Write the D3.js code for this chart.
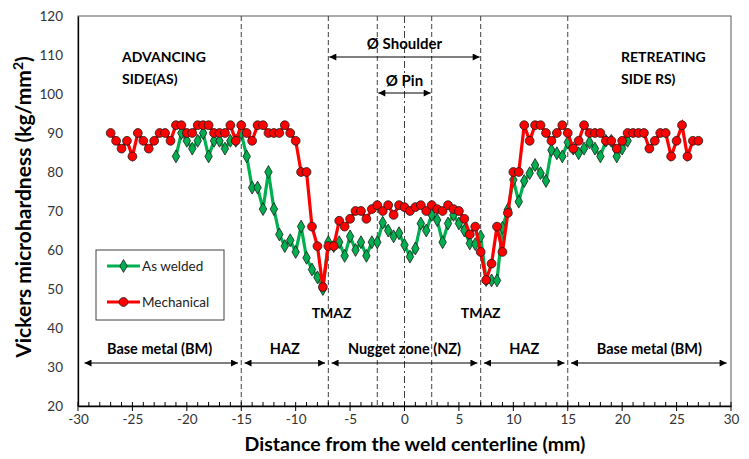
<!DOCTYPE html>
<html>
<head>
<meta charset="utf-8">
<script src="https://cdn.jsdelivr.net/npm/d3@7"></script>
<style>
  body { margin: 0; background: #fff; }
  svg text { font-family: Lato, "Open Sans", sans-serif; }
</style>
</head>
<body>
<div id="chart"></div>
<script>
// measurement positions (mm) and hardness readings
const mechX = [-27,-26.5,-26,-25.5,-25,-24.5,-24,-23.5,-23,-22.5,
  -22,-21.5,-21,-20.5,-20,-19.5,-19,-18.5,-18,-17.5,
  -17,-16.5,-16,-15.5,-15,-14.5,-14,-13.5,-13,-12.5,
  -12,-11.5,-11,-10.5,-10,-9.5,-9,-8.5,-8,-7.5,
  -7,-6.5,-6,-5.5,-5,-4.5,-4,-3.5,-3,-2.5,
  -2,-1.5,-1,-0.5,0,0.5,1,1.5,2,2.5,
  3,3.5,4,4.5,5,5.5,6,6.5,7,7.5,
  8,8.5,9,9.5,10,10.5,11,11.5,12,12.5,
  13,13.5,14,14.5,15,15.5,16,16.5,17,17.5,
  18,18.5,19,19.5,20,20.5,21,21.5,22,22.5,
  23,23.5,24,24.5,25,25.5,26,26.5,27]
const mechY = [90,88,86,88,84,90,88,86,88,90,
  90,88,92,92,90,90,92,92,92,90,
  90,90,92,88,92,90,88,92,92,90,
  90,90,92,90,88,80,80,66,61,50.5,
  61,61,67.5,66,68,70,70,68,70.5,71.5,
  70,71.5,69,71.5,71,70,71,71.5,70,71.5,
  70.5,70,71.5,70.5,70,68,64,66,59.5,52.3,
  56.5,66,59.5,69.5,80,80,92,88,92,92,
  90,88,90,92,90,86,88,92,90,90,
  90,88,88,86,88,90,90,90,90,86,
  88,90,90,84,88,92,84,88,88]

const weldX = [-21,-20.5,-20,-19.5,-19,-18.5,-18,-17.5,-17,-16.5,
  -16,-15.5,-15,-14.5,-14,-13.5,-13,-12.5,-12,-11.5,
  -11,-10.5,-10,-9.5,-9,-8.5,-8,-7.5,-7,-6.5,
  -6,-5.5,-5,-4.5,-4,-3.5,-3,-2.5,-2,-1.5,
  -1,-0.5,0,0.5,1,1.5,2,2.5,3,3.5,
  4,4.5,5,5.5,6,6.5,7,7.5,8,8.5,
  9,9.5,10,10.5,11,11.5,12,12.5,13,13.5,
  14,14.5,15,15.5,16,16.5,17,17.5,18,18.5,
  19,19.5,20,20.5]
const weldY = [84,90,88,86,88,90,84,88,88,86,
  88,88,90,84,76,76,70.5,80,70.5,64,
  61,62.5,59.5,66,58,55,53,50,62,61,
  62,58.5,63.5,60,62,58.5,62,62,67,65,
  63.5,64.3,61.3,58.3,60.4,66.8,65,69,67.7,62,
  66.8,69,66.8,65,61.7,61.5,63.5,52.3,52.2,52.2,
  65.7,70.4,78,72.4,77.7,79.7,81.8,79.7,77.7,85.6,
  84.8,84,87.6,86,84.8,86,87.6,86,84,88,
  88,84,86,88]

const seriesNames = ["As welded", "Mechanical"]
const xTicks = [-30,-25,-20,-15,-10,-5,0,5,10,15,20,25,30]
const yTicks = [20,30,40,50,60,70,80,90,100,110,120]
const zoneBounds = [-15, -7, -2.5, 0, 2.5, 7, 15]
const zones = [
  {from: -30, to: -15, label: "Base metal (BM)"},
  {from: -15, to: -7, label: "HAZ"},
  {from: -7, to: 7, label: "Nugget zone (NZ)"},
  {from: 7, to: 15, label: "HAZ"},
  {from: 15, to: 30, label: "Base metal (BM)"}
]

const W = 749, H = 459
const margin = {top: 16, right: 18, bottom: 53, left: 78}
const width = W - margin.left - margin.right
const height = H - margin.top - margin.bottom

const x = d3.scaleLinear().domain([-30, 30]).range([0, width])
const y = d3.scaleLinear().domain([20, 120]).range([height, 0])

const svg = d3.select("#chart").append("svg")
    .attr("width", W).attr("height", H)

svg.append("defs").append("marker")
    .attr("id", "ah")
    .attr("viewBox", "0 0 10 10")
    .attr("refX", 10).attr("refY", 5)
    .attr("markerWidth", 9).attr("markerHeight", 7)
    .attr("markerUnits", "userSpaceOnUse")
    .attr("orient", "auto-start-reverse")
  .append("path")
    .attr("d", "M0,0L10,5L0,10Z")
    .attr("fill", "#000")

const g = svg.append("g")
    .attr("transform", `translate(${margin.left},${margin.top})`)

// plot frame
g.append("rect")
    .attr("width", width).attr("height", height)
    .attr("fill", "none").attr("stroke", "#595959").attr("stroke-width", 1)

// zone boundaries
g.selectAll(".bound").data(zoneBounds).join("line")
    .attr("x1", d => x(d)).attr("x2", d => x(d))
    .attr("y1", 0).attr("y2", height)
    .attr("stroke", "#404040").attr("stroke-width", 1)
    .attr("stroke-dasharray", d => d === 0 ? "7,3,2,3" : "5,3")

// x axis
const xAxis = g.append("g").attr("transform", `translate(0,${height})`)
xAxis.call(d3.axisBottom(x).tickValues(xTicks).tickSize(0).tickPadding(8)
    .tickFormat(d => String(d)))
xAxis.select(".domain").attr("stroke", "#000").attr("stroke-width", 1.3)
xAxis.selectAll("text").attr("font-size", 13.5).attr("fill", "#333")
xAxis.selectAll(".minor").data(d3.range(-30, 31, 1)).join("line")
    .attr("x1", d => x(d)).attr("x2", d => x(d))
    .attr("y1", d => d % 5 === 0 ? 5 : 0).attr("y2", -4)
    .attr("stroke", "#000").attr("stroke-width", 1)

// y axis
const yAxis = g.append("g")
yAxis.call(d3.axisLeft(y).tickValues(yTicks).tickSize(0).tickPadding(15))
yAxis.select(".domain").attr("stroke", "#000").attr("stroke-width", 1.3)
yAxis.selectAll("text").attr("font-size", 13.5).attr("fill", "#333")

// axis titles
svg.append("text")
    .attr("x", 415).attr("y", 451)
    .attr("text-anchor", "middle")
    .attr("font-size", 19.5).attr("font-weight", "bold")
    .text("Distance from the weld centerline (mm)")

const yt = svg.append("text")
    .attr("transform", `translate(31,${margin.top + height / 2 - 4}) rotate(-90)`)
    .attr("text-anchor", "middle")
    .attr("font-size", 21).attr("font-weight", "bold")
yt.append("tspan").text("Vickers microhardness (kg/mm")
yt.append("tspan").attr("font-size", 14).attr("dy", -8).text("2")
yt.append("tspan").attr("dy", 8).text(")")

// series
const weld = weldX.map((d, i) => [d, weldY[i]])
const mech = mechX.map((d, i) => [d, mechY[i]])
const line = d3.line().x(d => x(d[0])).y(d => y(d[1]))

g.append("path").datum(weld)
    .attr("d", line).attr("fill", "none")
    .attr("stroke", "#00B050").attr("stroke-width", 3.2)
g.selectAll(".wpt").data(weld).join("path")
    .attr("transform", d => `translate(${x(d[0])},${y(d[1])})`)
    .attr("d", d3.symbol(d3.symbolDiamond, 48))
    .attr("fill", "#00B050").attr("stroke", "#1a1a1a").attr("stroke-width", 0.8)

g.append("path").datum(mech)
    .attr("d", line).attr("fill", "none")
    .attr("stroke", "#FF0000").attr("stroke-width", 3.2)
g.selectAll(".mpt").data(mech).join("circle")
    .attr("cx", d => x(d[0])).attr("cy", d => y(d[1])).attr("r", 4.4)
    .attr("fill", "#FF0000").attr("stroke", "#1a1a1a").attr("stroke-width", 0.8)

// zone arrows
const zy = 347
zones.forEach((z, i) => {
  const a = i === 0 ? z.from + 0.6 : z.from + 0.3
  const b = i === zones.length - 1 ? z.to - 0.4 : z.to - 0.3
  g.append("line")
      .attr("x1", x(a)).attr("x2", x(b)).attr("y1", zy).attr("y2", zy)
      .attr("stroke", "#000").attr("stroke-width", 1)
      .attr("marker-start", "url(#ah)").attr("marker-end", "url(#ah)")
  g.append("text")
      .attr("x", x((z.from + z.to) / 2)).attr("y", zy - 9)
      .attr("text-anchor", "middle")
      .attr("font-size", 14.5).attr("font-weight", "bold")
      .text(z.label)
})

// tool arrows
const tools = [
  {from: -7, to: 7, yv: 41, label: "Ø Shoulder", ty: 33},
  {from: -2.5, to: 2.5, yv: 77, label: "Ø Pin", ty: 70}
]
tools.forEach(t => {
  g.append("line")
      .attr("x1", x(t.from) + 1).attr("x2", x(t.to) - 1)
      .attr("y1", t.yv).attr("y2", t.yv)
      .attr("stroke", "#000").attr("stroke-width", 1)
      .attr("marker-start", "url(#ah)").attr("marker-end", "url(#ah)")
  g.append("text")
      .attr("x", x(0)).attr("y", t.ty)
      .attr("text-anchor", "middle")
      .attr("font-size", 15).attr("font-weight", "bold")
      .text(t.label)
})

// side labels
const side = (lines, px) => lines.forEach((s, i) =>
  svg.append("text").attr("x", px).attr("y", 62 + i * 22)
    .attr("font-size", 14).attr("font-weight", "bold").text(s))
side(["ADVANCING", "SIDE(AS)"], 122)
side(["RETREATING", "SIDE RS)"], 621)

// TMAZ labels
;[[-6.7, "TMAZ"], [7, "TMAZ"]].forEach(([v, s]) =>
  g.append("text").attr("x", x(v)).attr("y", 302)
    .attr("text-anchor", "middle")
    .attr("font-size", 14).attr("font-weight", "bold").text(s))

// legend
const leg = svg.append("g").attr("transform", "translate(96,250)")
leg.append("rect").attr("width", 128).attr("height", 70)
    .attr("fill", "#fff").attr("stroke", "#404040")
const legItems = [
  {name: seriesNames[0], color: "#00B050", sym: "diamond"},
  {name: seriesNames[1], color: "#FF0000", sym: "circle"}
]
legItems.forEach((d, i) => {
  const ly = 16 + i * 36
  leg.append("line").attr("x1", 11).attr("x2", 44).attr("y1", ly).attr("y2", ly)
      .attr("stroke", d.color).attr("stroke-width", 3.2)
  if (d.sym === "diamond") {
    leg.append("path").attr("transform", `translate(27.5,${ly})`)
        .attr("d", d3.symbol(d3.symbolDiamond, 48))
        .attr("fill", d.color).attr("stroke", "#1a1a1a").attr("stroke-width", 0.8)
  } else {
    leg.append("circle").attr("cx", 27.5).attr("cy", ly).attr("r", 4.4)
        .attr("fill", d.color).attr("stroke", "#1a1a1a").attr("stroke-width", 0.8)
  }
  leg.append("text").attr("x", 46).attr("y", ly + 5)
      .attr("font-size", 13.5).attr("fill", "#222").text(d.name)
})
</script>
</body>
</html>
